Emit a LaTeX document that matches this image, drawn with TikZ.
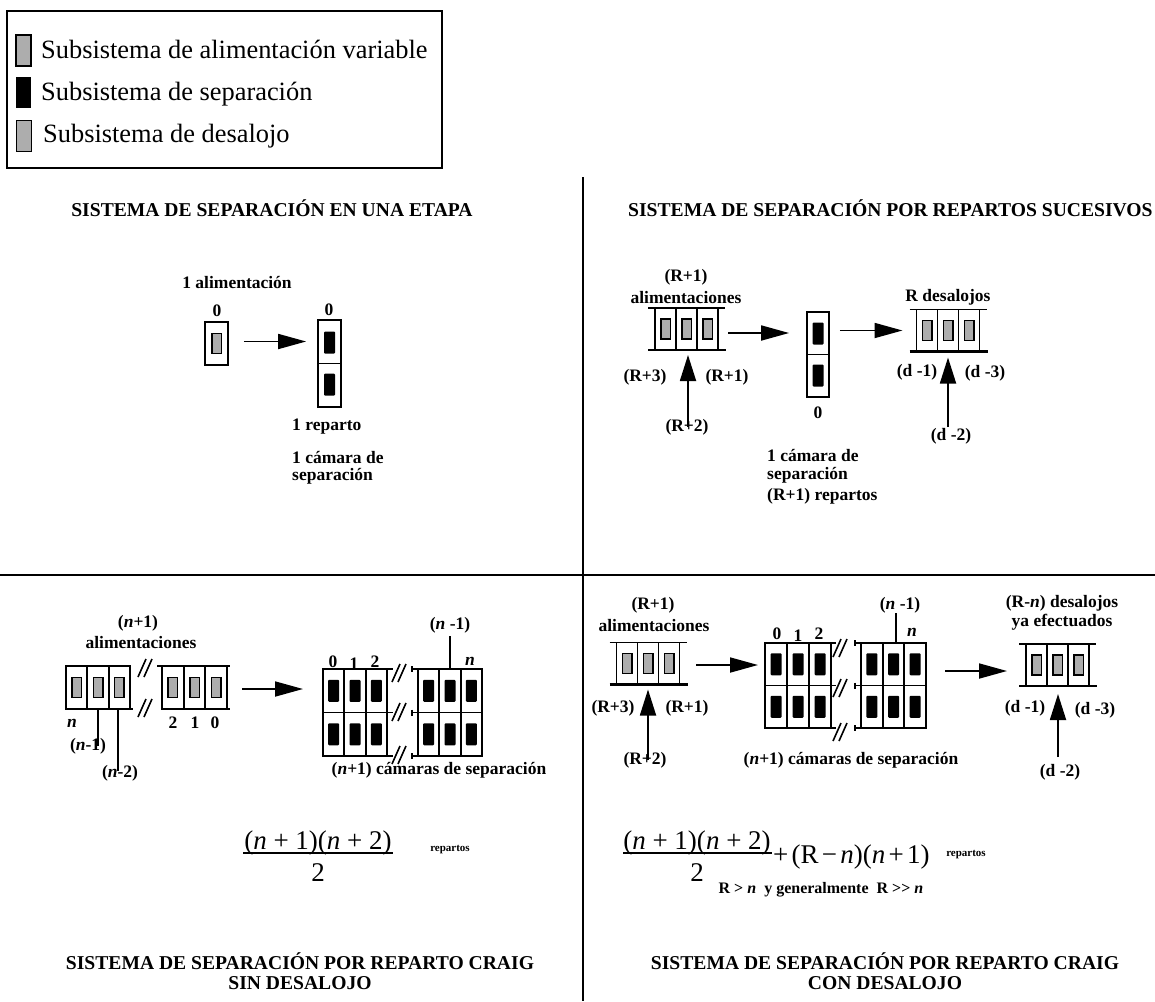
\documentclass[tikz,border=0pt]{standalone}
\usepackage{fontspec}
\setmainfont{Liberation Serif}
\usetikzlibrary{arrows.meta,calc}
\newcommand{\labfont}{\fontsize{17.5pt}{20pt}\selectfont\bfseries}
\newcommand{\hdfont}{\fontsize{19.6pt}{20pt}\selectfont\bfseries}
\newcommand{\lgfont}{\fontsize{26.4pt}{30pt}\selectfont}
\newcommand{\eqfont}{\fontsize{27pt}{30pt}\selectfont}
\newcommand{\smfont}{\fontsize{11pt}{13pt}\selectfont\bfseries}
\newcommand{\cdfont}{\fontsize{16pt}{18pt}\selectfont\bfseries}
\newcommand{\vn}{\textit{n}}
\newcommand{\tsp}{\hspace{0.12em}}
\tikzset{
  ln/.style={line width=1.8pt},
  gry/.style={draw, line width=1.5pt, fill=black!32, minimum width=9.5pt, minimum height=20pt, inner sep=0pt},
  blk/.style={fill=black, rounded corners=1pt, minimum width=11pt, minimum height=22pt, inner sep=0pt},
  lab/.style={font=\labfont, inner sep=0pt},
  hd/.style={font=\hdfont, inner sep=0pt, align=center},
  arr/.style={line width=1.8pt, -{Triangle[length=28pt,width=15pt]}},
  uarr/.style={line width=1.8pt, -{Triangle[length=26pt,width=16pt]}},
  brkl/.style={line width=1.6pt},
}
\newcommand{\tripleblock}[4]{%
  \node[minimum width=63pt, minimum height=42pt, inner sep=0pt, outer sep=0pt] (#1) at (#2,#3) {};
  \draw[ln] (#1.south west) rectangle (#1.north east);
  \draw[ln] ($(#1.north west)+(21,0)$) -- ($(#1.south west)+(21,0)$);
  \draw[ln] ($(#1.north west)+(42,0)$) -- ($(#1.south west)+(42,0)$);
  \draw[line width=1.6pt] ($(#1.north west)+(-7,0)$) -- ($(#1.north east)+(7,0)$);
  \draw[line width=2.6pt] ($(#1.south west)+(-7,0)$) -- ($(#1.south east)+(8,0)$);
  \foreach \i in {0,1,2} {\node[#4] at ($(#1.west)+(10.5+21*\i,0)$) {};}
}
\newcommand{\sepgrid}[5]{% name, cx, cy, width, height
  \node[minimum width=#4pt, minimum height=#5pt, inner sep=0pt, outer sep=0pt] (#1) at (#2,#3) {};
  \draw[ln] (#1.south west) rectangle (#1.north east);
  \draw[ln] (#1.west) -- (#1.east);
  \draw[ln] ($(#1.north west)+(#4/3,0)$) -- ($(#1.south west)+(#4/3,0)$);
  \draw[ln] ($(#1.north west)+(2*#4/3,0)$) -- ($(#1.south west)+(2*#4/3,0)$);
  \foreach \i in {0,1,2} {
    \node[blk] at ($(#1.west)+(#4/6+#4/3*\i,-#5/4)$) {};
    \node[blk] at ($(#1.west)+(#4/6+#4/3*\i,#5/4)$) {};
  }
}
\newcommand{\brk}[2]{%
  \draw[brkl] (#1-7,#2+9) -- (#1+1,#2-9);
  \draw[brkl] (#1-1,#2+9) -- (#1+7,#2-9);
}
\begin{document}
\begin{tikzpicture}[x=1pt,y=-1pt]
\useasboundingbox (0,0) rectangle (1155,1001);
\fill[white] (0,0) rectangle (1155,1001);

% ---------- legend ----------
\node[draw, line width=1.5pt, minimum width=435pt, minimum height=157pt, inner sep=0pt, anchor=north west] (legend) at (6,10) {};
\node[draw, line width=1.5pt, fill=black!32, minimum width=15pt, minimum height=31pt, inner sep=0pt] (sw1) at (23.5,50.5) {};
\node[fill=black, minimum width=15pt, minimum height=31pt, inner sep=0pt] (sw2) at (23.5,92.5) {};
\node[draw, line width=1.5pt, fill=black!32, minimum width=15pt, minimum height=31pt, inner sep=0pt] (sw3) at (24,136) {};
\node[font=\lgfont, inner sep=0pt, anchor=base west] (lg1) at (41,58) {Subsistema de alimentación variable};
\node[font=\lgfont, inner sep=0pt, anchor=base west] (lg2) at (41,100) {Subsistema de separación};
\node[font=\lgfont, inner sep=0pt, anchor=base west] (lg3) at (43,142) {Subsistema de desalojo};

% ---------- dividers ----------
\draw[line width=1.5pt] (583,177) -- (583,1001);
\draw[line width=1.5pt] (0,575) -- (1155,575);

% ---------- top left ----------
\node[hd] (h1) at (272,208) {SISTEMA DE SEPARACIÓN EN UNA ETAPA};
\node[lab] (t1) at (237,283) {1 alimentación};
\node[draw, ln, minimum width=23pt, minimum height=43pt, inner sep=0pt] (f0) at (216.5,343.5) {};
\node[gry] (f0i) at (f0.center) {};
\node[lab] (z0a) at (217,311) {0};
\node[draw, ln, minimum width=23pt, minimum height=87pt, inner sep=0pt] (s0) at (329.5,363.5) {};
\draw[ln] (s0.west) -- (s0.east);
\node[blk] (s0a) at ($(s0.center)+(0,-21)$) {};
\node[blk] (s0b) at ($(s0.center)+(0,21)$) {};
\node[lab] (z0b) at (329,310) {0};
\draw[arr] ($(f0.east)+(15,-2)$) -- ($(f0.east -| s0.west)+(-11,-2)$);
\node[lab, anchor=west] (t2) at (292,427) {1 reparto};
\node[lab, anchor=west] (t3) at (292,457) {1 cámara de};
\node[lab, anchor=west] (t4) at (292,476) {separación};

% ---------- top right ----------
\node[hd, anchor=west] (h2) at (628,208) {SISTEMA DE SEPARACIÓN POR REPARTOS SUCESIVOS};
\node[lab] (r1a) at (686,277) {(R+1)};
\node[lab] (r1b) at (686,298) {alimentaciones};
\tripleblock{fR}{686.5}{329}{gry}
\node[lab] (r3) at (645,377) {(R+3)};
\node[lab] (r1c) at (727,377) {(R+1)};
\node[lab] (r2) at (687,427) {(R+2)};
\coordinate (uR) at (688,427);
\draw[uarr] (uR) -- ($(uR |- fR.south)+(0,5)$);
\node[draw, ln, minimum width=22pt, minimum height=85pt, inner sep=0pt] (sR) at (818,354.5) {};
\draw[ln] (sR.west) -- (sR.east);
\node[blk] (sRa) at ($(sR.center)+(0,-21)$) {};
\node[blk] (sRb) at ($(sR.center)+(0,21)$) {};
\node[lab] (z0c) at (818,413) {0};
\draw[arr] ($(fR.east)+(10,4)$) -- ($(fR.east -| sR.west)+(-17,4)$);
\node[lab, anchor=west] (t5) at (767,455) {1 cámara de};
\node[lab, anchor=west] (t6) at (767,475) {separación};
\node[lab, anchor=west] (t7) at (767,496) {(R+1) repartos};
\tripleblock{dR}{948}{330.5}{gry}
\draw[arr] ($(sR.east)+(10,-24)$) -- ($(sR.east -| dR.west)+(-14,-24)$);
\node[lab] (rd) at (948,297) {R desalojos};
\node[lab] (d1) at (917,372) {(d -1)};
\node[lab] (d3) at (985,373) {(d -3)};
\node[lab] (d2) at (951,436) {(d -2)};
\coordinate (uD) at (948,427);
\draw[uarr] (uD) -- ($(uD |- dR.south)+(0,6)$);

% ---------- bottom left ----------
\node[lab] (n1a) at (138,623) {(\vn+1)};
\node[lab] (n1b) at (141,643) {alimentaciones};
\node[minimum width=64pt, minimum height=43pt, inner sep=0pt, outer sep=0pt] (fL1) at (98,687.5) {};
\draw[ln] (fL1.south west) rectangle (fL1.north east);
\draw[ln] ($(fL1.north west)+(21.3,0)$) -- ($(fL1.south west)+(21.3,0)$);
\draw[ln] ($(fL1.north west)+(42.6,0)$) -- ($(fL1.south west)+(42.6,0)$);
\draw[line width=2.6pt] (fL1.south west) -- ($(fL1.south east)+(3,0)$);
\foreach \i in {0,1,2} {\node[gry] at ($(fL1.west)+(10.7+21.3*\i,0)$) {};}
\node[minimum width=65pt, minimum height=43pt, inner sep=0pt, outer sep=0pt] (fL2) at (194.5,687.5) {};
\draw[ln] (fL2.south west) rectangle (fL2.north east);
\draw[ln] ($(fL2.north west)+(21.7,0)$) -- ($(fL2.south west)+(21.7,0)$);
\draw[ln] ($(fL2.north west)+(43.3,0)$) -- ($(fL2.south west)+(43.3,0)$);
\draw[line width=1.6pt] ($(fL2.north west)+(-5,0)$) -- ($(fL2.north east)+(3,0)$);
\draw[line width=2.6pt] (fL2.south west) -- ($(fL2.south east)+(3,0)$);
\foreach \i in {0,1,2} {\node[gry] at ($(fL2.west)+(10.8+21.7*\i,0)$) {};}
\brk{145}{668}
\brk{145}{708}
\node[lab] (nn) at (72,723) {\vn};
\node[lab] (c2) at (173,723) {2};
\node[lab] (c1) at (195,723) {1};
\node[lab] (c0) at (215,723) {0};
\node[lab] (nm1) at (88,746) {(\vn-1)};
\node[lab] (nm2) at (120,773) {(\vn-2)};
\coordinate (l1) at (98,710);
\coordinate (l2) at (118,710);
\draw[line width=1.5pt] (l1) -- (l1 |- nm1.center);
\draw[line width=1.5pt] (l2) -- ($(l2 |- nm2.center)+(0,-2)$);
\sepgrid{gL1}{355}{712.5}{64}{87}
\sepgrid{gL2}{450}{712.5}{64}{87}
\foreach \yy in {669,712.5,756} {
  \draw[line width=1.6pt] (387,\yy) -- (393,\yy);
  \draw[line width=1.6pt] (412,\yy) -- (418,\yy);
  \draw[line width=1.6pt] (412,\yy-3) -- (412,\yy+3);
}
\brk{399}{673}
\brk{399}{712}
\brk{399}{755}
\draw[arr] ($(fL2.east)+(15,1.5)$) -- ($(fL2.east -| gL1.west)+(-20,1.5)$);
\node[lab] (g0) at (333,662) {0};
\node[lab] (g1) at (354,664) {1};
\node[lab] (g2) at (375,662) {2};
\node[lab] (gn) at (470,661) {\vn};
\node[lab] (gnm) at (450,625) {(\vn\ -1)};
\draw[line width=1.5pt] (gnm.south) ++(0,3) -- (gnm.south |- gL2.north);
\node[lab] (camL) at (439,770) {(\vn+1) cámaras de separación};
% formula
\node[font=\eqfont, inner sep=0pt] (numL) at (318,843) {(\textit{n} + 1)(\textit{n} + 2)};
\draw[line width=1.4pt] (243,853) -- (393,853);
\node[font=\eqfont, inner sep=0pt] (denL) at (318,873) {2};
\node[font=\smfont, inner sep=0pt] (repL) at (450,850) {repartos};
\node[hd] (h3) at (300,971) {SISTEMA DE SEPARACIÓN POR REPARTO CRAIG\\SIN DESALOJO};

% ---------- bottom right ----------
\node[lab] (b1a) at (653,605) {(R+1)};
\node[lab] (b1b) at (654,626) {alimentaciones};
\tripleblock{fB}{648}{663.5}{gry}
\node[lab] (b3) at (613,708) {(R+3)};
\node[lab] (b1c) at (687,708) {(R+1)};
\node[lab] (b2) at (645,760) {(R+2)};
\coordinate (uB) at (648,760);
\draw[uarr] (uB) -- ($(uB |- fB.south)+(0,5)$);
\sepgrid{gB1}{798}{685.5}{66}{85}
\sepgrid{gB2}{893.5}{685.5}{65}{85}
\foreach \yy in {643,685.5,728} {
  \draw[line width=1.6pt] (831,\yy) -- (836,\yy);
  \draw[line width=1.6pt] (855,\yy) -- (861,\yy);
  \draw[line width=1.6pt] (855,\yy-3) -- (855,\yy+3);
}
\brk{840}{648}
\brk{840}{688}
\brk{840}{732}
\draw[arr] ($(fB.east)+(16.5,1.5)$) -- ($(fB.east -| gB1.west)+(-7,1.5)$);
\node[lab] (k0) at (777,634) {0};
\node[lab] (k1) at (798,636) {1};
\node[lab] (k2) at (819,634) {2};
\node[lab] (kn) at (912,632) {\vn};
\node[lab] (knm) at (900,605) {(\vn\ -1)};
\coordinate (lk) at (896,613);
\draw[line width=1.5pt] (lk) -- (lk |- gB2.north);
\node[lab] (camR) at (851,760) {(\vn+1) cámaras de separación};
\tripleblock{dB}{1057.5}{665}{gry}
\draw[arr] ($(gB2.east)+(19,-14.5)$) -- ($(gB2.east -| dB.west)+(-19,-14.5)$);
\node[lab] (e1) at (1062,603) {(R-\vn) desalojos};
\node[lab] (e2) at (1062,622) {ya efectuados};
\node[lab] (e3) at (1025,708) {(d -1)};
\node[lab] (e4) at (1095,710) {(d -3)};
\node[lab] (e5) at (1060,772) {(d -2)};
\coordinate (uE) at (1058,757);
\draw[uarr] (uE) -- ($(uE |- dB.south)+(0,8)$);
% formula
\node[font=\eqfont, inner sep=0pt] (numR) at (697,843) {(\textit{n} + 1)(\textit{n} + 2)};
\draw[line width=1.4pt] (623,853) -- (772,853);
\node[font=\eqfont, inner sep=0pt] (denR) at (697,873) {2};
\node[font=\eqfont, inner sep=0pt, anchor=west] (restR) at (773,857) {+\tsp(R\tsp−\tsp\textit{n})(\textit{n}\tsp+\tsp1)};
\node[font=\smfont, inner sep=0pt] (repR) at (966,855) {repartos};
\node[font=\cdfont, inner sep=0pt] (cond) at (821,890) {R {>} \vn\ \ y generalmente\ \ R {>}{>} \vn};
\node[hd] (h4) at (885,971) {SISTEMA DE SEPARACIÓN POR REPARTO CRAIG\\CON DESALOJO};
\end{tikzpicture}
\end{document}
